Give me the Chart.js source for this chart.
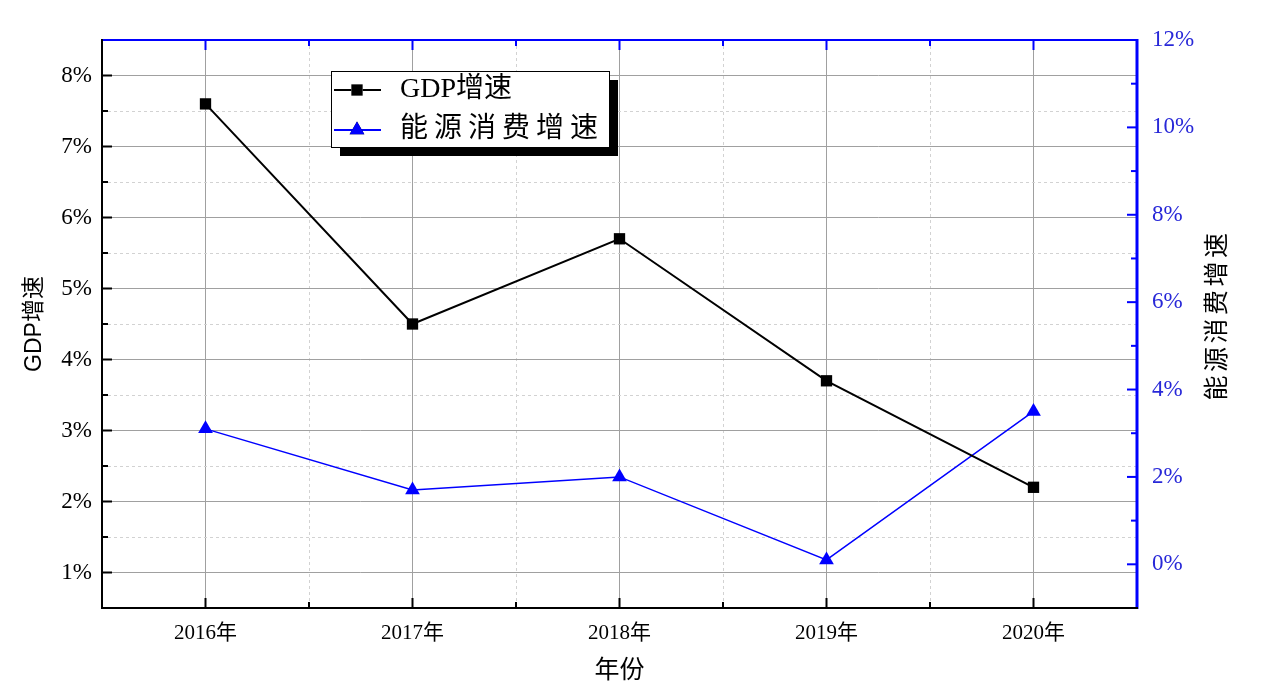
<!DOCTYPE html>
<html>
<head>
<meta charset="utf-8">
<script src="https://cdn.jsdelivr.net/npm/chart.js@4.4.1/dist/chart.umd.min.js"></script>
<style>
  html, body { margin: 0; padding: 0; background: #fff; }
  #wrap { width: 1264px; height: 694px; }
</style>
</head>
<body>
<div id="wrap"><canvas id="chart"></canvas></div>
<script>
// data
const years = [2016, 2017, 2018, 2019, 2020];
const gdpGrowth = [7.6, 4.5, 5.7, 3.7, 2.2];       // left axis, %
const energyGrowth = [3.1, 1.7, 2.0, 0.1, 3.5];    // right axis, %
const yearSuffix = '年';
const xTitle = '年份';
const yTitle = 'GDP增速';
const y1Title = '能源消费增速';

const SERIF = '"Liberation Serif", "Noto Sans CJK SC", serif';
const CJK = '"Noto Sans CJK SC", "Liberation Serif", sans-serif';
const BLUE = '#0000ff';
const BLUE_TEXT = '#2828d8';

const isInt = v => Math.abs(v - Math.round(v)) < 1e-9;

// solid grid on whole values, dotted on the halves, none on the frame
const gridColor = ctx => {
  if (!ctx.tick) return '#a0a0a0';
  const s = ctx.scale;
  if (ctx.tick.value <= s.min + 1e-9 || ctx.tick.value >= s.max - 1e-9) return 'rgba(0,0,0,0)';
  return isInt(ctx.tick.value) ? '#a0a0a0' : '#d2d2d2';
};
const gridDash = ctx => (ctx.tick && !isInt(ctx.tick.value)) ? [3, 3] : [];

// frame, inward ticks, right title, boxed legend
const originStyle = {
  id: 'originStyle',
  afterDatasetsDraw(chart) {
    const { ctx, chartArea: a, scales } = chart;
    ctx.save();
    ctx.lineCap = 'butt';

    const tick = (x1, y1, x2, y2, color) => {
      ctx.strokeStyle = color;
      ctx.lineWidth = 2;
      ctx.beginPath();
      ctx.moveTo(x1, y1);
      ctx.lineTo(x2, y2);
      ctx.stroke();
    };

    // x ticks bottom (black) and top (blue)
    scales.x.ticks.forEach(t => {
      if (t.value <= scales.x.min || t.value >= scales.x.max) return;
      const px = scales.x.getPixelForValue(t.value);
      const len = isInt(t.value) ? 10 : 6;
      tick(px, a.bottom, px, a.bottom - len, '#000');
      tick(px, a.top, px, a.top + len, BLUE);
    });
    // left ticks
    scales.y.ticks.forEach(t => {
      if (t.value <= scales.y.min || t.value >= scales.y.max) return;
      const py = scales.y.getPixelForValue(t.value);
      tick(a.left, py, a.left + (isInt(t.value) ? 10 : 6), py, '#000');
    });
    // right ticks
    scales.y1.ticks.forEach(t => {
      if (t.value <= scales.y1.min || t.value >= scales.y1.max) return;
      const py = scales.y1.getPixelForValue(t.value);
      tick(a.right, py, a.right - (t.value % 2 === 0 ? 10 : 6), py, BLUE);
    });

    // frame
    tick(a.left, a.top, a.right, a.top, BLUE);
    ctx.lineWidth = 3;
    ctx.strokeStyle = BLUE;
    ctx.beginPath();
    ctx.moveTo(a.right, a.top - 1);
    ctx.lineTo(a.right, a.bottom + 1);
    ctx.stroke();
    tick(a.left, a.bottom, a.right + 1, a.bottom, '#000');
    tick(a.left, a.top - 1, a.left, a.bottom + 1, '#000');

    // right axis title, reading bottom to top
    ctx.save();
    ctx.translate(a.right + 78, (a.top + a.bottom) / 2 - 9);
    ctx.rotate(-Math.PI / 2);
    ctx.font = '25px ' + CJK;
    ctx.fillStyle = '#000';
    ctx.textBaseline = 'middle';
    const chars = [...y1Title];
    const step = 28.5;
    let x0 = -(chars.length * step) / 2;
    chars.forEach((c, i) => ctx.fillText(c, x0 + i * step, 0));
    ctx.restore();

    // legend box with drop shadow
    const lx = a.left + 229, ly = a.top + 31, lw = 278, lh = 76;
    ctx.fillStyle = '#000';
    ctx.fillRect(lx + 9, ly + 9, lw, lh);
    ctx.fillStyle = '#fff';
    ctx.fillRect(lx, ly, lw, lh);
    ctx.strokeStyle = '#000';
    ctx.lineWidth = 1;
    ctx.strokeRect(lx + 0.5, ly + 0.5, lw, lh);

    const rowSpacing = [0, 6];
    chart.data.datasets.forEach((ds, i) => {
      const cy = ly + 19 + i * 40;
      ctx.strokeStyle = ds.borderColor;
      ctx.lineWidth = 2;
      ctx.beginPath();
      ctx.moveTo(lx + 3, cy);
      ctx.lineTo(lx + 50, cy);
      ctx.stroke();
      Chart.helpers.drawPoint(ctx, {
        pointStyle: ds.pointStyle,
        radius: ds.pointRadius,
        rotation: 0,
        borderWidth: 0
      }, lx + 26, cy);
      ctx.fillStyle = ds.backgroundColor;
      ctx.fill();

      ctx.fillStyle = '#000';
      ctx.font = '28px ' + SERIF;
      ctx.textBaseline = 'middle';
      let tx = lx + 69;
      [...ds.label].forEach(c => {
        ctx.fillText(c, tx, cy);
        tx += ctx.measureText(c).width + rowSpacing[i];
      });
    });
    ctx.restore();
  }
};

new Chart(document.getElementById('chart'), {
  type: 'line',
  data: {
    datasets: [
      {
        label: 'GDP增速',
        data: years.map((y, i) => ({ x: y, y: gdpGrowth[i] })),
        yAxisID: 'y',
        borderColor: '#000',
        backgroundColor: '#000',
        borderWidth: 2,
        pointStyle: 'rect',
        pointRadius: 8,
        pointBorderWidth: 0,
        tension: 0
      },
      {
        label: '能源消费增速',
        data: years.map((y, i) => ({ x: y, y: energyGrowth[i] })),
        yAxisID: 'y1',
        borderColor: BLUE,
        backgroundColor: BLUE,
        borderWidth: 1.5,
        pointStyle: 'triangle',
        pointRadius: 8.5,
        pointBorderWidth: 0,
        tension: 0
      }
    ]
  },
  options: {
    responsive: true,
    maintainAspectRatio: false,
    animation: false,
    layout: { padding: { top: 40, left: 0, right: 0, bottom: 0 } },
    plugins: { legend: { display: false }, tooltip: { enabled: false } },
    scales: {
      x: {
        type: 'linear',
        min: years[0] - 0.5,
        max: years[years.length - 1] + 0.5,
        afterFit: s => { s.height = 86; },
        afterBuildTicks: s => {
          s.ticks = [];
          for (let v = s.min; v <= s.max + 1e-9; v += 0.5) s.ticks.push({ value: v });
        },
        grid: { color: gridColor, lineWidth: 1, drawTicks: false },
        border: { display: false, dash: gridDash },
        ticks: {
          autoSkip: false,
          maxRotation: 0,
          padding: 13,
          color: '#000',
          font: { family: SERIF, size: 21 },
          callback: v => isInt(v) ? v + yearSuffix : ''
        },
        title: {
          display: true,
          text: xTitle,
          color: '#000',
          font: { family: CJK, size: 25 },
          padding: { top: 0, bottom: 11 }
        }
      },
      y: {
        position: 'left',
        min: 0.5,
        max: 8.5,
        afterFit: s => { s.width = 102; },
        afterBuildTicks: s => {
          s.ticks = [];
          for (let v = s.min; v <= s.max + 1e-9; v += 0.5) s.ticks.push({ value: v });
        },
        grid: { color: gridColor, lineWidth: 1, drawTicks: false },
        border: { display: false, dash: gridDash },
        ticks: {
          autoSkip: false,
          padding: 10,
          color: '#000',
          font: { family: SERIF, size: 23 },
          callback: v => isInt(v) ? v + '%' : ''
        },
        title: {
          display: true,
          text: yTitle,
          color: '#000',
          font: { family: '"Liberation Sans Narrow", "Liberation Sans", "Noto Sans CJK SC", sans-serif', size: 23 },
          padding: { top: 21, bottom: 0 }
        }
      },
      y1: {
        position: 'right',
        min: -1,
        max: 12,
        afterFit: s => { s.width = 127; },
        afterBuildTicks: s => {
          s.ticks = [];
          for (let v = s.min; v <= s.max; v += 1) s.ticks.push({ value: v });
        },
        grid: { drawOnChartArea: false, drawTicks: false },
        border: { display: false },
        ticks: {
          autoSkip: false,
          padding: 15,
          color: BLUE_TEXT,
          font: { family: SERIF, size: 23 },
          callback: v => (v % 2 === 0) ? v + '%' : ''
        }
      }
    }
  },
  plugins: [originStyle]
});
</script>
</body>
</html>
